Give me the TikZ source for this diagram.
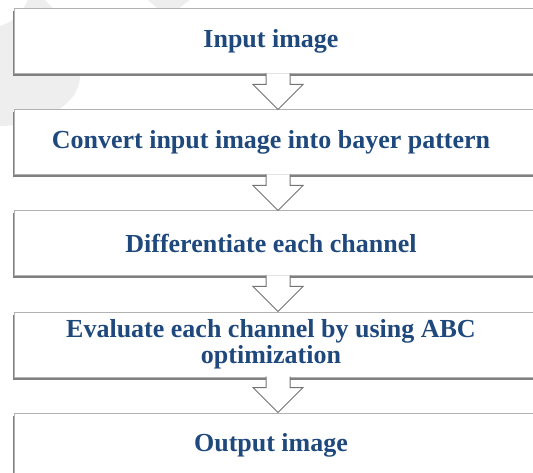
\documentclass[tikz,border=0pt]{standalone}
\usepackage{fontspec}
\setmainfont{Liberation Serif}
\usetikzlibrary{positioning,calc,shadows}
\definecolor{flowblue}{RGB}{31,73,125}

\begin{document}
\begin{tikzpicture}[x=1pt,y=-1pt,
  stage/.style={rectangle,draw=gray!60,line width=1pt,fill=white,
    minimum width=560pt,minimum height=65pt,
    drop shadow={shadow xshift=-1.2pt,shadow yshift=-2.5pt,fill=black!50,opacity=1}},
  caption/.style={align=center,text=flowblue,inner sep=0pt,
    font=\fontsize{26}{26}\selectfont\bfseries},
  flow/.style={draw=black!55,line width=1pt,fill=white,line join=miter},
  watermark/.style={fill=gray!13}]

  \useasboundingbox (0,0) rectangle (533,473);

  % faint background mark
  \fill[watermark] (28,0) -- (45,0) .. controls (80,35) and (92,80) .. (68,102)
    .. controls (50,120) and (20,126) .. (0,126) -- (0,26) .. controls (14,22) and (22,12) .. (28,0);
  \fill[watermark] (148,0) -- (190,0) -- (178,9) -- (158,9) -- cycle;

  \node[stage] (in) at (294,41.5) {};
  \node[stage,below=35pt of in] (bay) {};
  \node[stage,below=35pt of bay] (dif) {};
  \node[stage,below=35pt of dif] (abc) {};
  \node[stage,below=35pt of abc] (out) {};

  \node[caption] (inT) at ($(in)+(-23,0)$) {Input image};
  \node[caption] (bayT) at ($(bay)+(-23,0)$) {Convert input image into bayer pattern};
  \node[caption] (difT) at ($(dif)+(-23,0)$) {Differentiate each channel};
  \node[caption] (abcT) at ($(abc)+(-23,0)$) {Evaluate each channel by using ABC\\optimization};
  \node[caption] (outT) at ($(out)+(-23,0)$) {Output image};

  \foreach \a/\b in {in/bay,bay/dif,dif/abc,abc/out}
    \path[flow] ($(\a.south)+(-28,-1)$) -- ++(0,11) -- ++(-13,0) -- ($(\b.north)+(-16,0)$)
      -- ++(25,-25) -- ++(-13,0) -- ++(0,-11);
\end{tikzpicture}
\end{document}
